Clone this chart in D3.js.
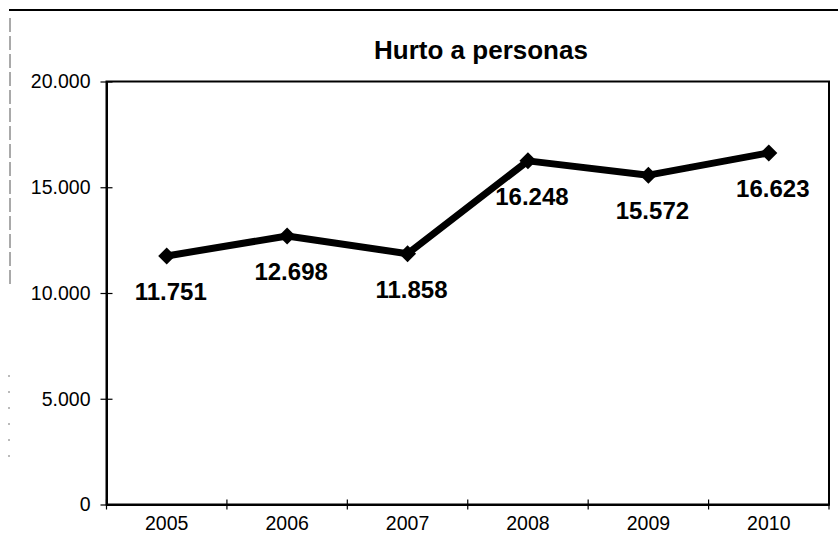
<!DOCTYPE html>
<html>
<head>
<meta charset="utf-8">
<script src="https://cdn.jsdelivr.net/npm/d3@7"></script>
<style>
  html, body { margin: 0; padding: 0; background: #fff; }
  svg { display: block; font-family: "Liberation Sans", Arial, sans-serif; }
</style>
</head>
<body>
<script>
const years = ["2005", "2006", "2007", "2008", "2009", "2010"];
const values = [11751, 12698, 11858, 16248, 15572, 16623];
const valueLabels = ["11.751", "12.698", "11.858", "16.248", "15.572", "16.623"];
const yTicks = [0, 5000, 10000, 15000, 20000];
const yTickLabels = ["0", "5.000", "10.000", "15.000", "20.000"];
const chartTitle = "Hurto a personas";

const W = 838, H = 559;
const plotL = 106.5, plotR = 829, plotT = 81.5, plotB = 504.5;

const svg = d3.select("body").append("svg").attr("width", W).attr("height", H);

// outer frame (partial scanned border)
svg.append("line").attr("x1", 9).attr("x2", W).attr("y1", 10).attr("y2", 10)
  .attr("stroke", "#000").attr("stroke-width", 2);
svg.append("line").attr("x1", 10).attr("x2", 10).attr("y1", 18).attr("y2", 285)
  .attr("stroke", "#555").attr("stroke-width", 1).attr("stroke-dasharray", "14,4");
svg.append("line").attr("x1", 9).attr("x2", 9).attr("y1", 375).attr("y2", 470)
  .attr("stroke", "#777").attr("stroke-width", 1).attr("stroke-dasharray", "2,14");

const x = d3.scaleBand().domain(years).range([plotL, plotR]);
const y = d3.scaleLinear().domain([0, 20000]).range([plotB, plotT]);

// plot frame
svg.append("rect").attr("x", plotL).attr("y", plotT)
  .attr("width", plotR - plotL).attr("height", plotB - plotT)
  .attr("fill", "none").attr("stroke", "#000").attr("stroke-width", 2);

// Y axis
const yAxis = d3.axisLeft(y).tickValues(yTicks)
  .tickFormat((d, i) => yTickLabels[i]).tickSizeInner(6).tickSizeOuter(0).tickPadding(11);
const gy = svg.append("g").attr("transform", `translate(${plotL},0)`).call(yAxis);
gy.select(".domain").attr("stroke", "#000").attr("stroke-width", 2);
gy.selectAll(".tick line").attr("x2", 6).attr("x1", -6).attr("stroke", "#000").attr("stroke-width", 1.2);
gy.selectAll(".tick text").attr("font-size", 19.5).attr("fill", "#000")
  .attr("font-family", "'Liberation Sans', Arial, sans-serif")
  .attr("x", -16);

// X axis
const xAxis = d3.axisBottom(x).tickSize(0).tickPadding(12);
const gx = svg.append("g").attr("transform", `translate(0,${plotB})`).call(xAxis);
gx.select(".domain").attr("stroke", "#000").attr("stroke-width", 2);
gx.selectAll(".tick text").attr("font-size", 19.5).attr("fill", "#000")
  .attr("font-family", "'Liberation Sans', Arial, sans-serif");
// tick marks at category boundaries
const bounds = years.map(d => x(d)).concat([x(years[years.length - 1]) + x.bandwidth()]);
svg.append("g").selectAll("line").data(bounds).join("line")
  .attr("x1", d => d).attr("x2", d => d)
  .attr("y1", plotB - 5).attr("y2", plotB + 5)
  .attr("stroke", "#000").attr("stroke-width", 1.2);

// line
const cx = d => x(d) + x.bandwidth() / 2;
const line = d3.line().x((d, i) => cx(years[i])).y(d => y(d));
svg.append("path").datum(values).attr("d", line)
  .attr("fill", "none").attr("stroke", "#000").attr("stroke-width", 7)
  .attr("stroke-linejoin", "round");

// diamond markers
const r = 8.5;
svg.append("g").selectAll("path").data(values).join("path")
  .attr("d", (d, i) => {
    const px = cx(years[i]), py = y(d);
    return `M${px},${py - r}L${px + r},${py}L${px},${py + r}L${px - r},${py}Z`;
  })
  .attr("fill", "#000");

// value labels
svg.append("g").selectAll("text").data(values).join("text")
  .attr("x", (d, i) => cx(years[i]) + 4)
  .attr("y", d => y(d) + 44)
  .attr("text-anchor", "middle")
  .attr("font-size", 24).attr("font-weight", "bold").attr("fill", "#000")
  .text((d, i) => valueLabels[i]);

// title
svg.append("text").attr("x", 481).attr("y", 59)
  .attr("text-anchor", "middle").attr("font-size", 26).attr("font-weight", "bold")
  .attr("fill", "#000").text(chartTitle);
</script>
</body>
</html>
